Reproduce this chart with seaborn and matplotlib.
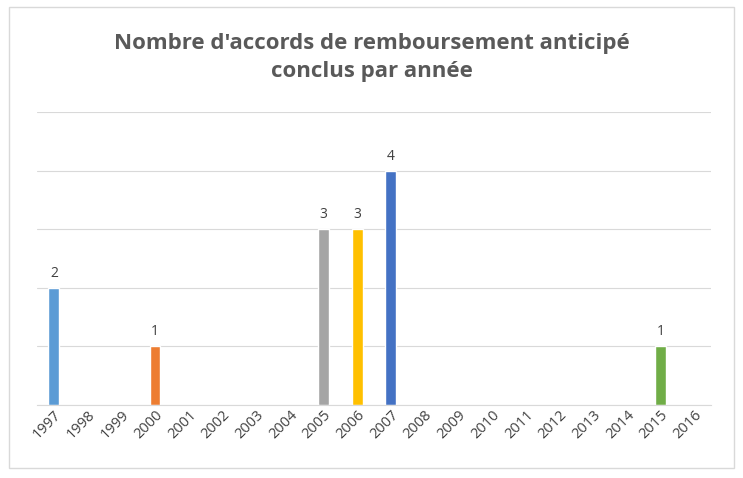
import matplotlib
matplotlib.use("Agg")
import matplotlib.pyplot as plt
import seaborn as sns
import pandas as pd
from matplotlib.patches import Rectangle

years = [str(y) for y in range(1997, 2017)]
counts = [2, 0, 0, 1, 0, 0, 0, 0, 3, 3, 4, 0, 0, 0, 0, 0, 0, 0, 1, 0]
bar_colors = {"1997": "#5B9BD5", "2000": "#ED7D31", "2005": "#A5A5A5",
              "2006": "#FFC000", "2007": "#4472C4", "2015": "#70AD47"}
title = "Nombre d'accords de remboursement anticipé\nconclus par année"

df = pd.DataFrame({"year": years, "count": counts})
palette = {y: bar_colors.get(y, "#5B9BD5") for y in years}

sns.set_style("white")
plt.rcParams['font.family'] = ['Open Sans', 'DejaVu Sans']
fig = plt.figure(figsize=(7.43, 4.78), dpi=100)
ax = fig.add_axes([0.0498, 0.1527, 0.957 - 0.0498, 0.7657 - 0.1527])
sns.barplot(data=df, x="year", y="count", hue="year", palette=palette,
            order=years, hue_order=years, width=0.32, legend=False, ax=ax,
            saturation=1, dodge=False)
for cont in ax.containers:
    for bar in cont:
        h = bar.get_height()
        if h > 0:
            ax.text(bar.get_x() + bar.get_width() / 2, h + 0.12, f"{int(h)}",
                    ha="center", va="bottom", fontsize=10, color="#404040")
ax.set_ylim(0, 5)
ax.set_xlim(-0.5, len(years) - 0.5)
ax.set_yticks(range(0, 6))
ax.set_yticklabels([])
ax.tick_params(axis="y", length=0)
ax.grid(axis="y", color="#D9D9D9", linewidth=0.8)
ax.set_axisbelow(True)
for s in ["left", "right", "top"]:
    ax.spines[s].set_visible(False)
ax.spines["bottom"].set_color("#D9D9D9")
ax.set_xticks([i - 0.5 for i in range(len(years) + 1)], minor=True)
ax.tick_params(axis="x", which="minor", length=5, color="#D9D9D9")
ax.tick_params(axis="x", which="major", length=0, labelsize=10.5, labelcolor="#404040", pad=2)
plt.setp(ax.get_xticklabels(), rotation=45, ha="right", rotation_mode="anchor")
ax.set_xlabel("")
ax.set_ylabel("")
fig.text(0.5, 0.88, title, ha="center", va="center", fontsize=16,
         fontweight="bold", color="#595959", linespacing=1.45)
fig.patches.append(Rectangle((0.012, 0.02), 0.976, 0.965, transform=fig.transFigure,
                             fill=False, edgecolor="#D9D9D9", linewidth=1))
fig.savefig("out.png", dpi=100)
